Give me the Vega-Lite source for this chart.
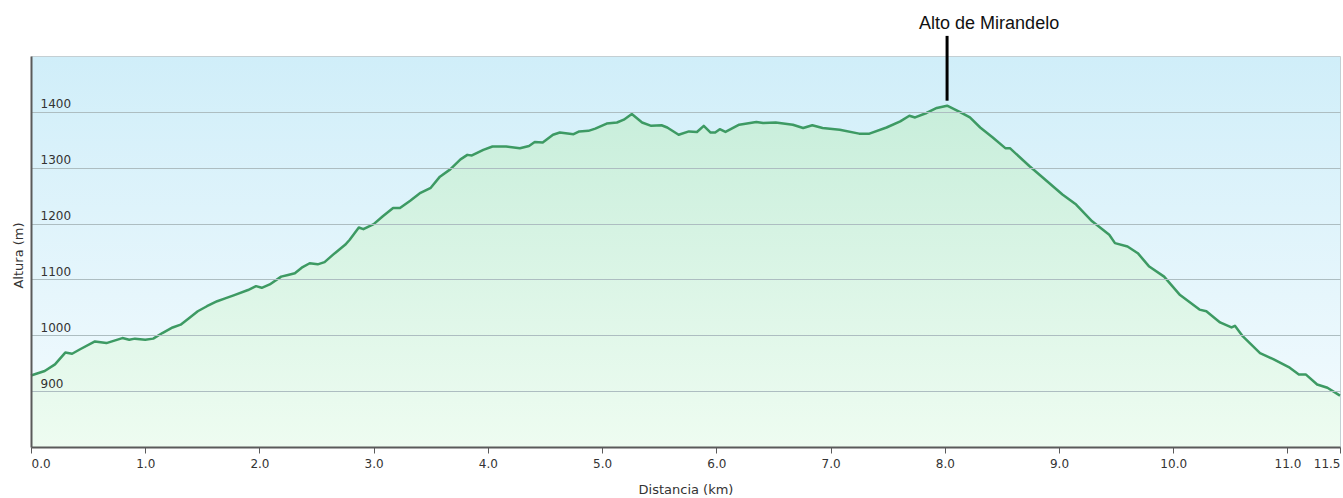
{
  "$schema": "https://vega.github.io/schema/vega-lite/v6.json",
  "width": 1309,
  "height": 391,
  "autosize": "none",
  "padding": {"left": 31, "top": 56, "right": 3, "bottom": 51},
  "background": "white",
  "config": {
    "view": {
      "stroke": "#c4cfd3",
      "strokeWidth": 1,
      "fill": {
        "gradient": "linear",
        "x1": 0, "y1": 0, "x2": 0, "y2": 1,
        "stops": [
          {"offset": 0, "color": "#d0eef9"},
          {"offset": 1, "color": "#f4fbfe"}
        ]
      }
    },
    "axis": {
      "labelFont": "DejaVu Sans",
      "labelFontSize": 12,
      "labelColor": "#333333",
      "titleFont": "DejaVu Sans",
      "titleFontSize": 13,
      "titleFontWeight": "normal",
      "titleColor": "#333333",
      "domainColor": "#5a5a5a",
      "domainWidth": 2
    }
  },
  "datasets": {
    "perfil": [
      {"km": 0, "alt": 928}, {"km": 0.12, "alt": 936}, {"km": 0.21, "alt": 948},
      {"km": 0.30, "alt": 969}, {"km": 0.36, "alt": 967}, {"km": 0.43, "alt": 975},
      {"km": 0.56, "alt": 989}, {"km": 0.66, "alt": 986}, {"km": 0.80, "alt": 995},
      {"km": 0.86, "alt": 992}, {"km": 0.91, "alt": 994}, {"km": 1.00, "alt": 992},
      {"km": 1.07, "alt": 994}, {"km": 1.15, "alt": 1004}, {"km": 1.24, "alt": 1014},
      {"km": 1.31, "alt": 1019}, {"km": 1.38, "alt": 1030}, {"km": 1.46, "alt": 1043},
      {"km": 1.54, "alt": 1052}, {"km": 1.63, "alt": 1061}, {"km": 1.70, "alt": 1066},
      {"km": 1.78, "alt": 1072}, {"km": 1.90, "alt": 1081}, {"km": 1.97, "alt": 1088},
      {"km": 2.02, "alt": 1085}, {"km": 2.09, "alt": 1091}, {"km": 2.19, "alt": 1105},
      {"km": 2.25, "alt": 1108}, {"km": 2.31, "alt": 1111}, {"km": 2.37, "alt": 1121},
      {"km": 2.44, "alt": 1129}, {"km": 2.51, "alt": 1127}, {"km": 2.57, "alt": 1131},
      {"km": 2.66, "alt": 1147}, {"km": 2.75, "alt": 1162}, {"km": 2.79, "alt": 1171},
      {"km": 2.87, "alt": 1193}, {"km": 2.91, "alt": 1190}, {"km": 3.00, "alt": 1199},
      {"km": 3.08, "alt": 1213}, {"km": 3.17, "alt": 1228}, {"km": 3.23, "alt": 1228},
      {"km": 3.32, "alt": 1241}, {"km": 3.41, "alt": 1255}, {"km": 3.50, "alt": 1264},
      {"km": 3.58, "alt": 1284}, {"km": 3.67, "alt": 1297}, {"km": 3.76, "alt": 1315},
      {"km": 3.82, "alt": 1323}, {"km": 3.86, "alt": 1322}, {"km": 3.96, "alt": 1332},
      {"km": 4.04, "alt": 1338}, {"km": 4.16, "alt": 1338}, {"km": 4.28, "alt": 1335},
      {"km": 4.36, "alt": 1339}, {"km": 4.41, "alt": 1346}, {"km": 4.48, "alt": 1345},
      {"km": 4.57, "alt": 1359}, {"km": 4.63, "alt": 1363}, {"km": 4.75, "alt": 1360},
      {"km": 4.80, "alt": 1365}, {"km": 4.88, "alt": 1366}, {"km": 4.94, "alt": 1370},
      {"km": 5.04, "alt": 1379}, {"km": 5.13, "alt": 1381}, {"km": 5.19, "alt": 1386},
      {"km": 5.26, "alt": 1396}, {"km": 5.35, "alt": 1381}, {"km": 5.43, "alt": 1375},
      {"km": 5.52, "alt": 1376}, {"km": 5.57, "alt": 1372}, {"km": 5.67, "alt": 1359},
      {"km": 5.76, "alt": 1365}, {"km": 5.83, "alt": 1364}, {"km": 5.89, "alt": 1375},
      {"km": 5.95, "alt": 1363}, {"km": 5.99, "alt": 1363}, {"km": 6.03, "alt": 1369},
      {"km": 6.08, "alt": 1364}, {"km": 6.20, "alt": 1377}, {"km": 6.35, "alt": 1382},
      {"km": 6.41, "alt": 1380}, {"km": 6.52, "alt": 1381}, {"km": 6.67, "alt": 1377},
      {"km": 6.76, "alt": 1371}, {"km": 6.84, "alt": 1376}, {"km": 6.93, "alt": 1371},
      {"km": 7.08, "alt": 1368}, {"km": 7.25, "alt": 1361}, {"km": 7.34, "alt": 1361},
      {"km": 7.49, "alt": 1372}, {"km": 7.61, "alt": 1383}, {"km": 7.69, "alt": 1393},
      {"km": 7.74, "alt": 1390}, {"km": 7.84, "alt": 1398}, {"km": 7.93, "alt": 1407},
      {"km": 8.02, "alt": 1411}, {"km": 8.13, "alt": 1400}, {"km": 8.22, "alt": 1390},
      {"km": 8.31, "alt": 1372}, {"km": 8.42, "alt": 1354}, {"km": 8.53, "alt": 1335},
      {"km": 8.57, "alt": 1335}, {"km": 8.74, "alt": 1303}, {"km": 8.86, "alt": 1282},
      {"km": 9.03, "alt": 1252}, {"km": 9.15, "alt": 1234}, {"km": 9.29, "alt": 1204},
      {"km": 9.44, "alt": 1180}, {"km": 9.49, "alt": 1165}, {"km": 9.60, "alt": 1159},
      {"km": 9.69, "alt": 1147}, {"km": 9.79, "alt": 1123}, {"km": 9.92, "alt": 1105},
      {"km": 10.06, "alt": 1072}, {"km": 10.23, "alt": 1046}, {"km": 10.29, "alt": 1043},
      {"km": 10.41, "alt": 1023}, {"km": 10.51, "alt": 1014}, {"km": 10.54, "alt": 1017},
      {"km": 10.61, "alt": 998}, {"km": 10.76, "alt": 968}, {"km": 10.88, "alt": 957},
      {"km": 11.02, "alt": 942}, {"km": 11.10, "alt": 930}, {"km": 11.16, "alt": 930},
      {"km": 11.26, "alt": 912}, {"km": 11.35, "alt": 906}, {"km": 11.46, "alt": 892}
    ],
    "cumbre": [
      {"nombre": "Alto de Mirandelo", "km": 8.02, "arriba": 1536, "abajo": 1420, "texto": 1548}
    ]
  },
  "data": {"name": "perfil"},
  "layer": [
    {
      "mark": {
        "type": "area",
        "fill": {
          "gradient": "linear",
          "x1": 0, "y1": 0, "x2": 0, "y2": 1,
          "stops": [
            {"offset": 0, "color": "#c8eedb"},
            {"offset": 1, "color": "#eefcf1"}
          ]
        }
      },
      "encoding": {
        "x": {
          "field": "km", "type": "quantitative",
          "scale": {"domain": [0, 11.46], "nice": false},
          "axis": {
            "values": [0, 1, 2, 3, 4, 5, 6, 7, 8, 9, 10, 11, 11.46],
            "format": ".1f",
            "labelFlush": true,
            "grid": false,
            "tickColor": "#5a5a5a",
            "tickSize": 6,
            "labelPadding": 5,
            "title": "Distancia  (km)",
            "titleBaseline": "alphabetic",
            "titleY": 46,
            "zindex": 1
          }
        },
        "y": {
          "field": "alt", "type": "quantitative",
          "scale": {"domain": [800, 1500], "nice": false, "zero": false},
          "axis": {
            "values": [900, 1000, 1100, 1200, 1300, 1400],
            "format": "d",
            "grid": true,
            "gridColor": "#adbdc1",
            "gridWidth": 1,
            "ticks": false,
            "labelAlign": "left",
            "labelPadding": -9,
            "labelBaseline": "alphabetic",
            "labelOffset": -4,
            "title": "Altura (m)",
            "titleAngle": 270,
            "titleX": -13,
            "titleY": 199,
            "titleAlign": "center",
            "titleBaseline": "middle",
            "zindex": 1
          }
        },
        "y2": {"datum": 800}
      }
    },
    {
      "mark": {"type": "line", "color": "#3d9a63", "strokeWidth": 2.5, "strokeJoin": "round", "zindex": 2},
      "encoding": {
        "x": {"field": "km", "type": "quantitative"},
        "y": {"field": "alt", "type": "quantitative"}
      }
    },
    {
      "data": {"name": "cumbre"},
      "mark": {"type": "rule", "color": "black", "strokeWidth": 3, "zindex": 2},
      "encoding": {
        "x": {"field": "km", "type": "quantitative"},
        "y": {"field": "arriba", "type": "quantitative"},
        "y2": {"field": "abajo"}
      }
    },
    {
      "data": {"name": "cumbre"},
      "mark": {"type": "text", "font": "Liberation Sans", "fontSize": 18, "color": "#111111", "align": "left", "baseline": "alphabetic", "dx": -28, "zindex": 2},
      "encoding": {
        "x": {"field": "km", "type": "quantitative"},
        "y": {"field": "texto", "type": "quantitative"},
        "text": {"field": "nombre"}
      }
    }
  ]
}
